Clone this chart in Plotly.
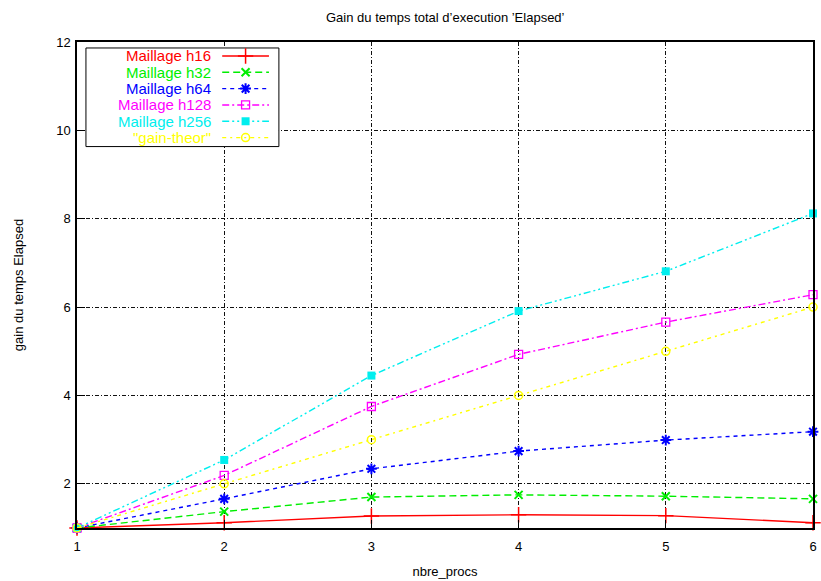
import plotly.graph_objects as go

# Number of processors
procs = [1, 2, 3, 4, 5, 6]

# Speed-up of total elapsed time for each mesh
gain_h16 = [1.0, 1.12, 1.27, 1.30, 1.28, 1.12]
gain_h32 = [1.0, 1.37, 1.70, 1.75, 1.72, 1.66]
gain_h64 = [1.0, 1.66, 2.34, 2.74, 2.99, 3.18]
gain_h128 = [1.0, 2.19, 3.75, 4.93, 5.66, 6.28]
gain_h256 = [1.0, 2.54, 4.45, 5.91, 6.81, 8.12]
gain_theor = [1.0, 2.0, 3.0, 4.0, 5.0, 6.0]

x_ticks = [1, 2, 3, 4, 5, 6]
y_ticks = [2, 4, 6, 8, 10, 12]

series = [
    ("Maillage h16", gain_h16, "#ff0000", "solid", "cross-thin", 11, 1.5),
    ("Maillage h32", gain_h32, "#00ee00", "7px,4px", "x-thin", 8, 2),
    ("Maillage h64", gain_h64, "#0000ff", "4px,4px", "asterisk", 9, 2),
    ("Maillage h128", gain_h128, "#ff00ff", "7px,3px,2px,3px", "square-open", 8, 1.3),
    ("Maillage h256", gain_h256, "#00eeee", "7px,3px,2px,3px,2px,3px", "square", 8, 0),
    ('"gain-theor"', gain_theor, "#ffff00", "4px,4px,2px,4px", "circle-open", 8, 1.5),
]

FONT = "Liberation Sans, Arial"

fig = go.Figure()

for name, vals, color, dash, symbol, msize, mline in series:
    fig.add_trace(go.Scatter(
        x=procs, y=vals, mode="lines+markers", name=name,
        line=dict(color=color, width=1.4, dash=dash),
        marker=dict(symbol=symbol, size=msize, color=color,
                    line=dict(color=color, width=mline)),
        showlegend=False, cliponaxis=False,
    ))

# Key drawn on a pixel-scaled overlay: box, line samples and right-aligned labels
box_left, box_right, box_top, box_bottom = 86, 280, 48, 147
row0, row_step = 56, 16.4
sample_x0, sample_x1 = 223, 270
label_right = 214

fig.add_trace(go.Scatter(
    x=[box_left, box_right, box_right, box_left, box_left],
    y=[box_top, box_top, box_bottom, box_bottom, box_top],
    xaxis="x2", yaxis="y2", mode="lines", fill="toself",
    fillcolor="white", line=dict(color="black", width=1),
    showlegend=False, hoverinfo="skip",
))

annotations = []
for i, (name, vals, color, dash, symbol, msize, mline) in enumerate(series):
    yy = row0 + i * row_step
    fig.add_trace(go.Scatter(
        x=[sample_x0, sample_x1], y=[yy, yy], xaxis="x2", yaxis="y2",
        mode="lines", line=dict(color=color, width=1.4, dash=dash),
        showlegend=False, hoverinfo="skip",
    ))
    fig.add_trace(go.Scatter(
        x=[(sample_x0 + sample_x1) / 2], y=[yy], xaxis="x2", yaxis="y2",
        mode="markers",
        marker=dict(symbol=symbol, size=msize, color=color,
                    line=dict(color=color, width=mline)),
        showlegend=False, hoverinfo="skip",
    ))
    annotations.append(dict(
        x=label_right, y=yy, xref="x2", yref="y2", text=name,
        xanchor="right", yanchor="middle", showarrow=False,
        font=dict(family=FONT, size=15, color=color),
    ))

annotations.append(dict(
    x=0.5, y=1, xref="paper", yref="paper", yshift=25,
    text="Gain du temps total d\u2019execution \u2019Elapsed\u2019",
    showarrow=False, xanchor="center", yanchor="middle",
    font=dict(family=FONT, size=13, color="black"),
))

grid = dict(showgrid=True, gridcolor="#111111", gridwidth=1,
            griddash="4px,2px,1px,2px")
axis_common = dict(
    showline=True, linecolor="black", linewidth=1.5, mirror=True,
    ticks="inside", ticklen=8, tickcolor="black", zeroline=False,
    tickfont=dict(family=FONT, size=13, color="black"),
    **grid,
)

fig.update_layout(
    width=821, height=581,
    margin=dict(l=77, r=4, t=42, b=51),
    paper_bgcolor="white", plot_bgcolor="white",
    annotations=annotations,
    xaxis=dict(range=[1, 6], tickvals=x_ticks, ticklabelstandoff=6,
               title=dict(text="nbre_procs", standoff=14,
                          font=dict(family=FONT, size=13, color="black")),
               **axis_common),
    yaxis=dict(range=[1, 12], tickvals=y_ticks, ticklabelstandoff=2,
               title=dict(text="gain du temps Elapsed", standoff=30,
                          font=dict(family=FONT, size=13, color="black")),
               **axis_common),
    xaxis2=dict(overlaying="x", range=[77, 817], visible=False, fixedrange=True),
    yaxis2=dict(overlaying="y", range=[530, 42], visible=False, fixedrange=True),
)

fig.write_html("out.html")
